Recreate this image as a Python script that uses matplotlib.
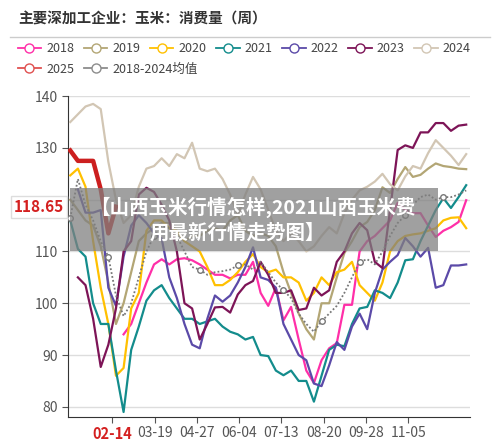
import matplotlib
matplotlib.use("Agg")
import matplotlib.pyplot as plt
from matplotlib.lines import Line2D
from matplotlib.patches import Rectangle
import numpy as np

plt.rcParams['font.family'] = ['Noto Sans CJK SC', 'DejaVu Sans']

N = None
weeks = list(range(53))
tick_pos = [5.5, 11.1, 16.6, 22.2, 27.7, 33.3, 38.8, 44.4]
tick_labels = ["02-14", "03-19", "04-27", "06-04", "07-13", "08-20", "09-28", "11-05"]

s2018 = [N]*7 + [94, 96, 100, 104, 107.5, 108.5, 107.5, 108.5, 108.7, 108.3, 107.5, 106.5, 105.5, 105.5, 104.8, 105.5, 105.5, 108, 102, 99.5, 103, 96.7, 99.3, 93, 87, 84.6, 89, 91.3, 92.3, 99.7, 99.7, 110, 112, 113, 114.5, 116, 119.4, 118, 117.4, 117.4, 115, 112.8, 114, 114.7, 115.7, 119.9]
s2019 = [120, 118, 116, 115, 111, 104, 96, 100, 106, 112, 113.5, 114.5, 115.5, 115.5, 114, 112, 113, 113, 114, 114.5, 114, 116, 117, 114, 113, 113.5, 113, 111, 106, 102, 98, 95, 93, 100, 100, 105, 109.7, 112, 114.7, 115.7, 118, 122.4, 121.3, 124, 126.3, 124.4, 124.8, 126, 127, 126.5, 126.3, 126, 125.9]
s2020 = [124.7, 126, 122.5, 112, 103, 96, 86, 87.5, 99, 102, 114, 116, 116, 114.5, 114, 112, 111, 110, 107, 103.5, 103.5, 104.5, 106, 108, 109.5, 107, 106, 106.5, 105, 105, 104, 100.5, 102, 105, 103.5, 106, 106.5, 108, 103.5, 102, 100.5, 104, 110, 112, 113, 113.3, 113.5, 114, 114.5, 116, 116.5, 116.6, 114.5]
s2021 = [116, 110.5, 109, 100, 96, 96, 87, 79, 91, 95.5, 100.5, 102.5, 103.5, 101, 99, 97, 97, 96, 96.5, 97, 95.5, 94.5, 94, 93, 93.5, 90, 89.8, 87, 86.1, 87, 85, 85, 81, 86, 91, 92, 91.7, 96, 99, 99.3, 102.5, 102, 101, 104, 108.3, 108.5, 112, 115, 118, 120.3, 118.4, 120.5, 122.8]
s2022 = [N, 122, 117.5, 117.5, 118, 103, 99.5, 109, 115, 117, 115.5, 113.5, 112.5, 105, 101, 96, 92, 91.3, 97, 101.5, 100.3, 101.5, 104, 107, 110.8, 105, 104.5, 103, 96, 93, 90, 89, 84.5, 84, 88, 92.5, 91, 95.5, 98, 95, 102, 106.5, 108, 109.3, 112.6, 111, 109, 110.7, 103, 103.5, 107.3, 107.3, 107.5]
s2023 = [N, 105, 103.5, 97, 87.7, 92, 99, 110, 112, 121, 122.3, 121.5, 119, 116, 110, 100, 99, 93, 96, 99.2, 99.3, 98.2, 101.7, 103.5, 104.3, 108, 105.5, 102, 102, 102.5, 98.7, 99, 103, 101.5, 102.5, 108, 110, 113.5, 115.5, 114.1, 108, 106.8, 118, 129.6, 130.5, 130, 133, 133, 134.8, 134.8, 133.3, 134.3, 134.5]
s2024 = [135, 136.5, 138, 138.5, 137.5, 127.3, 120, 115.5, 117, 122.5, 126, 126.5, 128, 126.5, 128.8, 128, 131, 126, 125.5, 126, 124, 121, 117, 121, 124.4, 122, 118, 114, 112, 113.5, 112, 110, 111, 113, 114.7, 113.5, 117.4, 120, 121.8, 122.5, 123.5, 125, 123, 121.8, 124.5, 126.5, 126, 129, 131.5, 130, 128.5, 126.7, 128.8]
s2025 = [129.5, 127.5, 127.5, 127.5, 122, 113.5, 118.65]
savg = [116.5, 124, 119, 116, 112, 109, 101.5, 97.5, 100, 105, 110, 113, 115, 114.5, 113, 110, 107, 106.5, 105.5, 106, 106.2, 106.5, 107.3, 107.5, 106.5, 108, 106, 104, 102.5, 101, 98, 96, 94.5, 96.5, 98, 99.5, 102, 105, 108, 108.5, 107.5, 110, 113, 115.5, 117, 119, 120.5, 121, 120, 120.5, 120.5, 121, 121.8]

series = [("2018", s2018, "#ff2fa8"), ("2019", s2019, "#b3a675"), ("2020", s2020, "#ffc000"),
          ("2021", s2021, "#138c8c"), ("2022", s2022, "#5b4aa8"), ("2023", s2023, "#7d1457"),
          ("2024", s2024, "#d2c6b4"), ("2025", s2025, "#e05050"), ("2018-2024均值", savg, "#8c8c8c")]

fig = plt.figure(figsize=(5, 4.41), dpi=100)
ax = fig.add_axes([0.136, 0.054, 0.804, 0.728])
for name, vals, col in series:
    x = weeks[:len(vals)]
    y = np.array([np.nan if v is None else v for v in vals], dtype=float)
    if name == "2025":
        ax.plot(x, y, color="#cc1f1f", lw=3.2, zorder=5)
    elif name.startswith("2018-"):
        ax.plot(x, y, color="#777777", lw=1.3, ls=(0, (1, 1.2)), zorder=4,
                marker='o', ms=4, mfc='white', markevery=[0, 5, 11, 17, 22, 28, 33, 38, 44, 49])
    else:
        ax.plot(x, y, color=col, lw=1.6, zorder=3)

ax.set_ylim(78, 140)
ax.set_xlim(-0.3, 52.5)
ax.set_yticks([80, 90, 100, 110, 120, 130, 140])
ax.set_yticklabels(["80", "90", "100", "110", "", "130", "140"])
ax.yaxis.grid(True, color="#dddddd", lw=1)
ax.set_axisbelow(True)
ax.set_xticks(tick_pos)
ax.set_xticklabels(tick_labels)
for s in ["top", "right"]:
    ax.spines[s].set_visible(False)
ax.spines["left"].set_color("#333333")
ax.spines["bottom"].set_color("#333333")
ax.tick_params(colors="#555555", labelsize=10, length=4)
ax.tick_params(axis="x", pad=2)
lbls = ax.get_xticklabels()
lbls[0].set_color("#d42020"); lbls[0].set_fontweight("bold"); lbls[0].set_fontsize(10.5)

ax.text(-0.8, 118.65, "118.65", transform=ax.transData, ha="right", va="center",
        color="#d42020", fontsize=11, fontweight="bold",
        bbox=dict(boxstyle="square,pad=0.2", fc="white", ec="#dddddd"))

fig.text(0.036, 0.958, "主要深加工企业：玉米：消费量（周）", fontsize=10.5, fontweight="bold", color="#333333", va="center")
fig.add_artist(Line2D([0.02, 0.98], [0.915, 0.915], color="#cccccc", lw=1))

def h(c):
    return Line2D([], [], color=c, lw=1.3, marker='o', ms=6.5, mfc='white', mec=c)

row1 = series[:7]
row2 = series[7:]
kw = dict(loc="upper left", frameon=False, fontsize=9, handlelength=1.9, handletextpad=0.4,
          columnspacing=0.75, labelcolor="#444444", borderaxespad=0, borderpad=0)
fig.legend([h(c) for _, _, c in row1], [n for n, _, _ in row1], ncol=7,
           bbox_to_anchor=(0.035, 0.905), **kw)
fig.legend([h(c) for _, _, c in row2], [n for n, _, _ in row2], ncol=2,
           bbox_to_anchor=(0.035, 0.858), **kw)

fig.add_artist(Rectangle((0.14, 1 - 251/441), 0.736, 63/441, transform=fig.transFigure,
                         fc="#808080", alpha=0.75, ec="none", zorder=10))
fig.text(0.505, 1 - 207/441, "【山西玉米行情怎样,2021山西玉米费", color="white", fontsize=14,
         fontweight="bold", ha="center", va="center", zorder=11)
fig.text(0.475, 1 - 233/441, "用最新行情走势图】", color="white", fontsize=14,
         fontweight="bold", ha="center", va="center", zorder=11)

fig.savefig("out.png", dpi=100)
